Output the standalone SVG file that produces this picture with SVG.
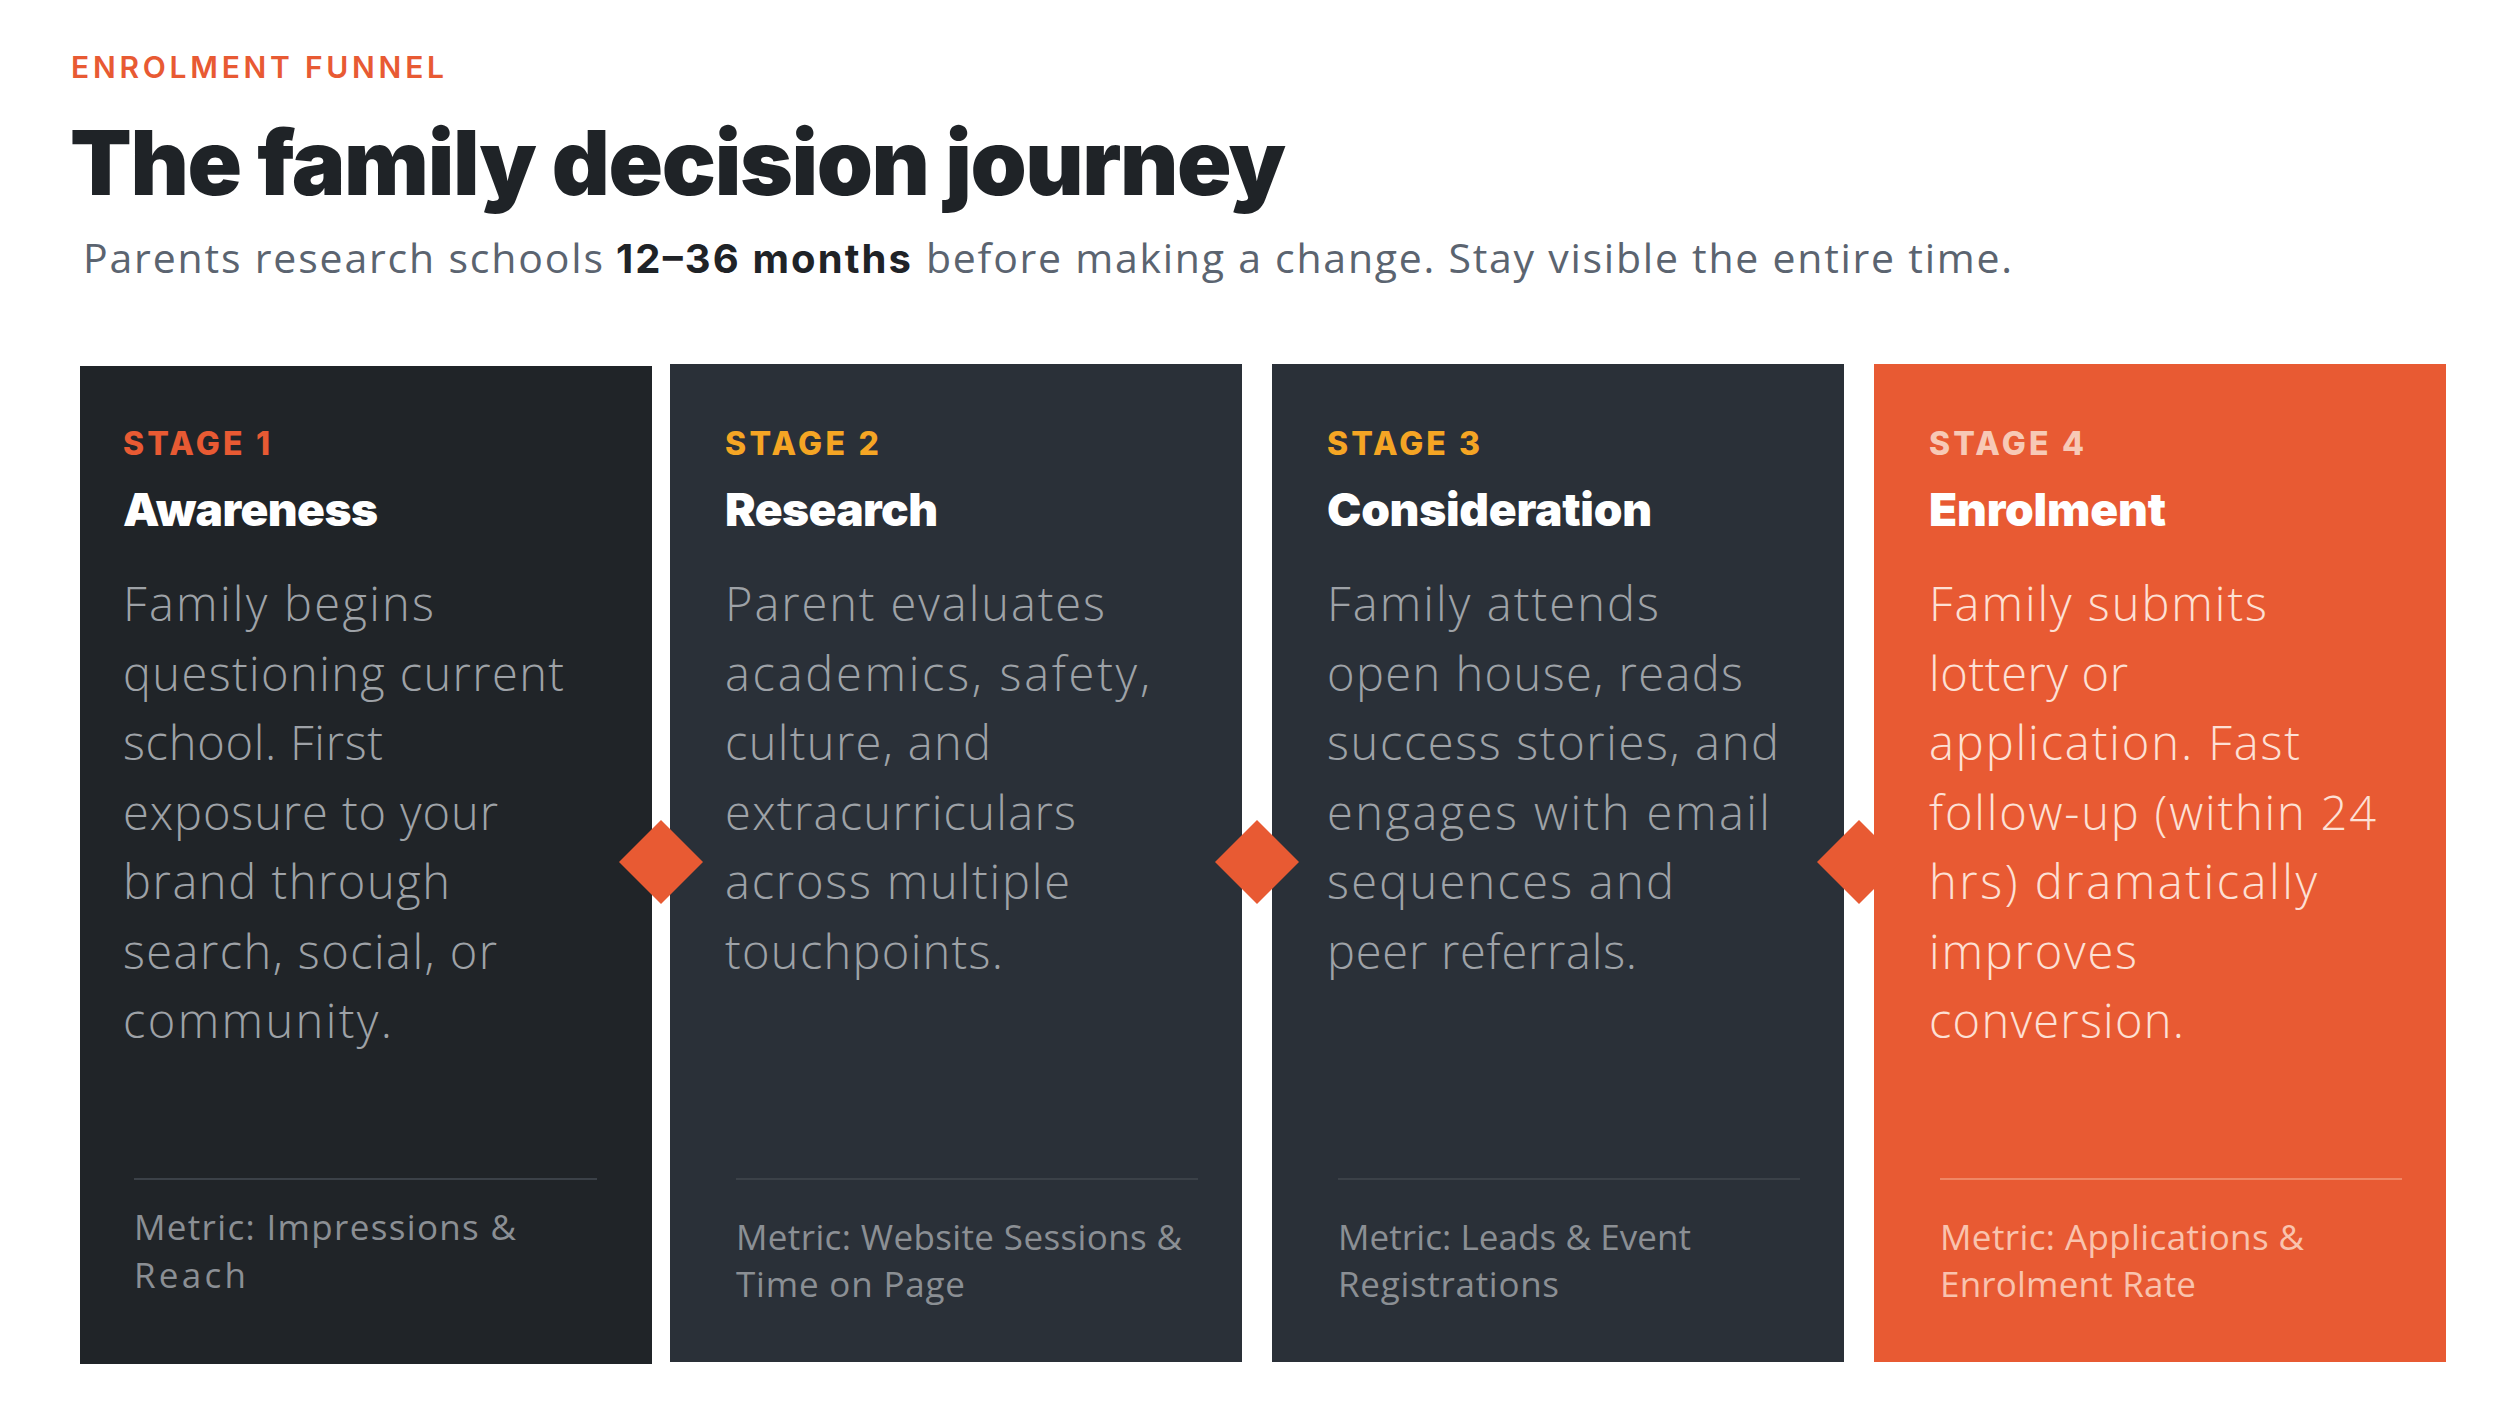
<svg xmlns="http://www.w3.org/2000/svg" width="2500" height="1406" viewBox="0 0 2500 1406">
<style>
.eyebrow{font-family:"Inter","Liberation Sans",sans-serif;font-weight:600;font-size:30px;fill:#e85a33}
.title{font-family:"Inter","Liberation Sans",sans-serif;font-weight:900;font-size:90px;fill:#1f2327}
.sub{font-family:"Open Sans","Liberation Sans",sans-serif;font-weight:400;font-size:41px;fill:#5b6470}
.subb{font-family:"Inter","Liberation Sans",sans-serif;font-weight:700;font-size:40px;fill:#1f2327}
.stage{font-family:"Inter","Liberation Sans",sans-serif;font-weight:800;font-size:32px}
.head{font-family:"Inter","Liberation Sans",sans-serif;font-weight:900;font-size:46px;fill:#ffffff}
.body{font-family:"Open Sans","Liberation Sans",sans-serif;font-weight:300;font-size:47px;fill:#9ea2a7}
.metric{font-family:"Open Sans","Liberation Sans",sans-serif;font-weight:400;font-size:35px;fill:#8b8f94}
.sep{stroke:#3b4148;stroke-width:2}
.c4 .body{fill:#fde0d5}
.c4 .metric{fill:#f9c3ae}
.c4 .sep{stroke:#ef8765}
.diamond{fill:#e85a33}
</style>
<rect width="2500" height="1406" fill="#ffffff"/>
<g id="header">
<text class="eyebrow" x="71" y="78" textLength="373">ENROLMENT FUNNEL</text>
<text class="title" x="70" y="195" textLength="1216">The family decision journey</text>
<text class="sub" x="83" y="273" textLength="520">Parents research schools</text>
<text class="subb" x="616" y="273" textLength="295">12–36 months</text>
<text class="sub" x="926" y="273" textLength="1086">before making a change. Stay visible the entire time.</text>
</g>
<g id="stage1" class="c1">
<rect x="80" y="366" width="572" height="998" fill="#202428"/>
<text class="stage" x="123" y="455" fill="#e85a33" textLength="147">STAGE 1</text>
<text class="head" x="123" y="526" textLength="255">Awareness</text>
<text class="body" x="123" y="621" textLength="311">Family begins</text>
<text class="body" x="123" y="690.5" textLength="441">questioning current</text>
<text class="body" x="123" y="760" textLength="260">school. First</text>
<text class="body" x="123" y="829.5" textLength="375">exposure to your</text>
<text class="body" x="123" y="899" textLength="327">brand through</text>
<text class="body" x="123" y="968.5" textLength="374">search, social, or</text>
<text class="body" x="123" y="1038" textLength="269">community.</text>
<line class="sep" x1="134" y1="1179" x2="597" y2="1179"/>
<text class="metric" x="134" y="1240" textLength="382">Metric: Impressions &amp;</text>
<text class="metric" x="134" y="1288" textLength="112">Reach</text>
</g>
<g id="stage2" class="c2">
<rect x="670" y="364" width="572" height="998" fill="#2a3038"/>
<text class="stage" x="725" y="455" fill="#f5a524" textLength="154">STAGE 2</text>
<text class="head" x="725" y="526" textLength="213">Research</text>
<text class="body" x="725" y="621" textLength="380">Parent evaluates</text>
<text class="body" x="725" y="690.5" textLength="425">academics, safety,</text>
<text class="body" x="725" y="760" textLength="266">culture, and</text>
<text class="body" x="725" y="829.5" textLength="351">extracurriculars</text>
<text class="body" x="725" y="899" textLength="345">across multiple</text>
<text class="body" x="725" y="968.5" textLength="278">touchpoints.</text>
<line class="sep" x1="736" y1="1179" x2="1198" y2="1179"/>
<text class="metric" x="736" y="1250" textLength="446">Metric: Website Sessions &amp;</text>
<text class="metric" x="736" y="1297" textLength="229">Time on Page</text>
</g>
<g id="stage3" class="c3">
<rect x="1272" y="364" width="572" height="998" fill="#2a3038"/>
<text class="stage" x="1327" y="455" fill="#f5a524" textLength="153">STAGE 3</text>
<text class="head" x="1327" y="526" textLength="325">Consideration</text>
<text class="body" x="1327" y="621" textLength="332">Family attends</text>
<text class="body" x="1327" y="690.5" textLength="416">open house, reads</text>
<text class="body" x="1327" y="760" textLength="452">success stories, and</text>
<text class="body" x="1327" y="829.5" textLength="443">engages with email</text>
<text class="body" x="1327" y="899" textLength="347">sequences and</text>
<text class="body" x="1327" y="968.5" textLength="310">peer referrals.</text>
<line class="sep" x1="1338" y1="1179" x2="1800" y2="1179"/>
<text class="metric" x="1338" y="1250" textLength="353">Metric: Leads &amp; Event</text>
<text class="metric" x="1338" y="1297" textLength="221">Registrations</text>
</g>
<g id="stage4" class="c4">
<rect x="1874" y="364" width="572" height="998" fill="#e85a33"/>
<text class="stage" x="1929" y="455" fill="#f7c9b6" textLength="155">STAGE 4</text>
<text class="head" x="1929" y="526" textLength="237">Enrolment</text>
<text class="body" x="1929" y="621" textLength="338">Family submits</text>
<text class="body" x="1929" y="690.5" textLength="199">lottery or</text>
<text class="body" x="1929" y="760" textLength="371">application. Fast</text>
<text class="body" x="1929" y="829.5" textLength="447">follow-up (within 24</text>
<text class="body" x="1929" y="899" textLength="388">hrs) dramatically</text>
<text class="body" x="1929" y="968.5" textLength="208">improves</text>
<text class="body" x="1929" y="1038" textLength="255">conversion.</text>
<line class="sep" x1="1940" y1="1179" x2="2402" y2="1179"/>
<text class="metric" x="1940" y="1250" textLength="364">Metric: Applications &amp;</text>
<text class="metric" x="1940" y="1297" textLength="256">Enrolment Rate</text>
</g>
<g id="connectors">
<polygon class="diamond" points="661,820 703,862 661,904 619,862"/>
<polygon class="diamond" points="1257,820 1299,862 1257,904 1215,862"/>
<polygon class="diamond" points="1859,820 1901,862 1859,904 1817,862"/>
</g>
</svg>
